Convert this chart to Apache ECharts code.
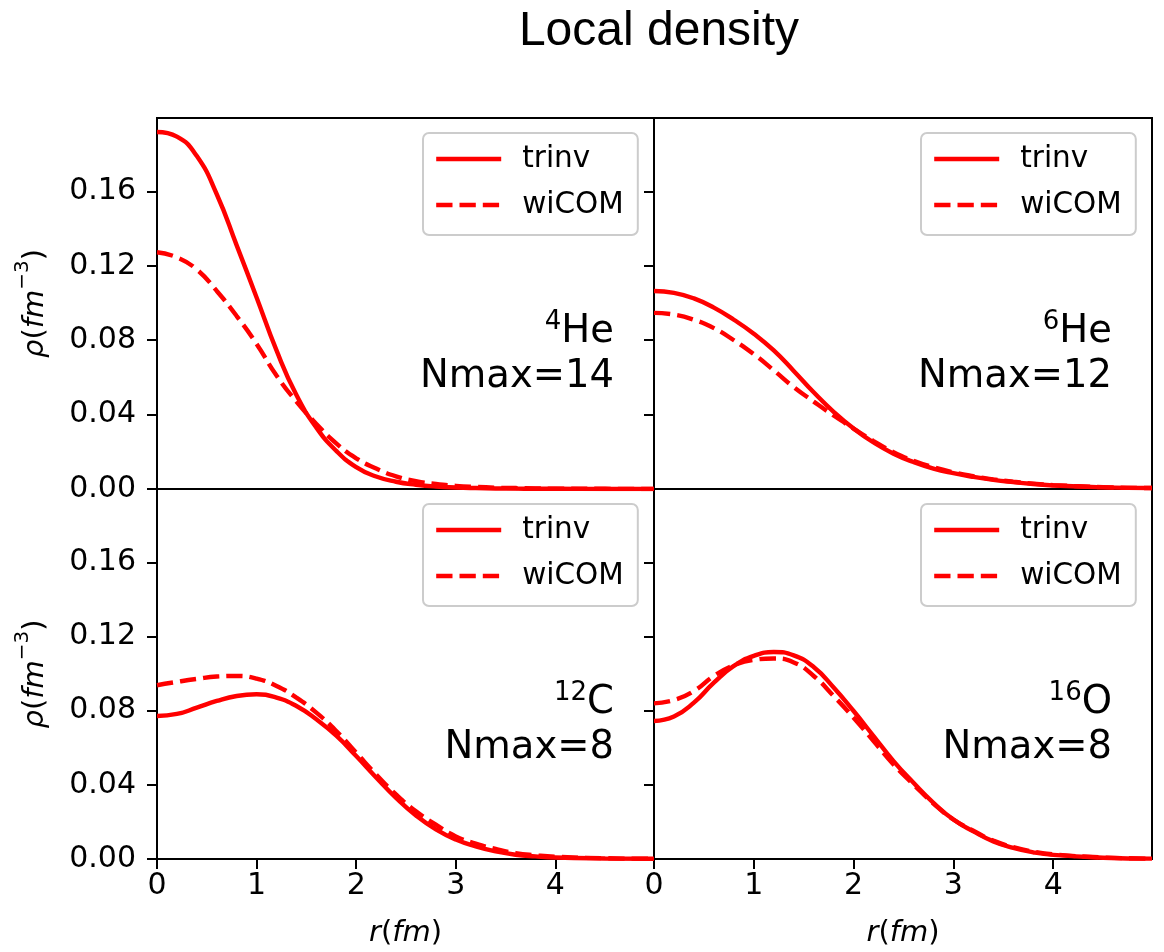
<!DOCTYPE html>
<html>
<head>
<meta charset="utf-8">
<script src="https://cdn.jsdelivr.net/npm/echarts@6/dist/echarts.min.js"></script>
<style>
html,body{margin:0;padding:0;background:#fff;}
#chart{width:1164px;height:952px;}
</style>
</head>
<body>
<div id="chart"></div>
<script>
// ---------------- data ----------------
const rValues = [0, 0.2, 0.4, 0.6, 0.8, 1.0, 1.2, 1.4, 1.6, 1.8, 2.0, 2.2, 2.4, 2.6, 2.8, 3.0, 3.2, 3.4, 3.6, 3.8, 4.0, 4.5, 4.99];

const he4Trinv = [0.192, 0.1895, 0.1790, 0.1585, 0.131, 0.103, 0.0745, 0.0505, 0.0330, 0.0205, 0.0118, 0.0067, 0.0039, 0.0023, 0.0013, 0.0008, 0.0005, 0.0003, 0.0002, 0.0001, 0.0001, 0, 0];
const he4Wicom = [0.1273, 0.1246, 0.118, 0.1065, 0.093, 0.078, 0.061, 0.047, 0.035, 0.0245, 0.0165, 0.011, 0.0068, 0.0042, 0.0027, 0.0017, 0.0011, 0.0007, 0.0005, 0.0003, 0.0002, 0.0001, 0];

const he6Trinv = [0.1065, 0.1055, 0.1025, 0.0975, 0.091, 0.0835, 0.0745, 0.0635, 0.052, 0.0415, 0.0325, 0.025, 0.019, 0.0145, 0.011, 0.0085, 0.0065, 0.0049, 0.0037, 0.0027, 0.0019, 0.0009, 0.0005];
const he6Wicom = [0.0947, 0.0938, 0.091, 0.0865, 0.080, 0.0725, 0.0638, 0.0548, 0.047, 0.0395, 0.0325, 0.0258, 0.0198, 0.0152, 0.0117, 0.009, 0.0069, 0.0052, 0.0039, 0.0029, 0.0021, 0.001, 0.0005];

const c12Trinv = [0.0771, 0.0782, 0.0816, 0.0852, 0.0879, 0.0888, 0.087, 0.0825, 0.0753, 0.0665, 0.0555, 0.044, 0.033, 0.0235, 0.016, 0.0105, 0.0068, 0.0041, 0.0023, 0.0014, 0.0008, 0.0003, 0.0001];
const c12Wicom = [0.0937, 0.0955, 0.0971, 0.0984, 0.0987, 0.0973, 0.0933, 0.087, 0.0789, 0.069, 0.0573, 0.0456, 0.0348, 0.0257, 0.0185, 0.0122, 0.0083, 0.0054, 0.0032, 0.002, 0.0012, 0.0004, 0.0001];

const o16Trinv = [0.0744, 0.0768, 0.0843, 0.0951, 0.1041, 0.1095, 0.1116, 0.1098, 0.1035, 0.0925, 0.0798, 0.0663, 0.0528, 0.0411, 0.0303, 0.0213, 0.0149, 0.0095, 0.006, 0.0036, 0.0022, 0.0007, 0.0002];
const o16Wicom = [0.0839, 0.0857, 0.0906, 0.0987, 0.1045, 0.1074, 0.1081, 0.106, 0.0987, 0.0879, 0.0762, 0.0636, 0.051, 0.0402, 0.0299, 0.0213, 0.0152, 0.0099, 0.0064, 0.004, 0.0025, 0.0008, 0.0002];

const seriesNames = ['trinv', 'wiCOM'];
const massNumbers = ['4', '6', '12', '16'];
const elements = ['He', 'He', 'C', 'O'];
const nmaxLabels = ['Nmax=14', 'Nmax=12', 'Nmax=8', 'Nmax=8'];
const xTicks = [0, 1, 2, 3, 4];
const yTicks = [0, 0.04, 0.08, 0.12, 0.16];
const titleText = 'Local density';

// ---------------- layout / style ----------------
const FONT = 'DejaVu Sans';
const grids = [
  {left: 157, top: 118, width: 497, height: 371},
  {left: 654, top: 118, width: 498, height: 371},
  {left: 157, top: 489, width: 497, height: 370},
  {left: 654, top: 489, width: 498, height: 370}
];
const trinvSets = [he4Trinv, he6Trinv, c12Trinv, o16Trinv];
const wicomSets = [he4Wicom, he6Wicom, c12Wicom, o16Wicom];

function pairs(vals) { return rValues.map((r, i) => [r, vals[i]]); }

const mathRich = {
  it: {fontFamily: FONT, fontStyle: 'italic', fontSize: 29, color: '#000', lineHeight: 44},
  n: {fontFamily: FONT, fontSize: 29, color: '#000', lineHeight: 44},
  sup: {fontFamily: FONT, fontSize: 20, color: '#000', lineHeight: 16, verticalAlign: 'top'}
};

const xAxes = grids.map((g, i) => ({
  type: 'value', gridIndex: i, min: 0, max: 4.99,
  axisLine: {show: false}, splitLine: {show: false},
  axisTick: {show: i >= 2, customValues: xTicks, length: 10, lineStyle: {color: '#000', width: 2}},
  axisLabel: {show: i >= 2, customValues: xTicks, formatter: v => String(v), fontFamily: FONT, fontSize: 30, color: '#000', margin: 12},
  name: i >= 2 ? '{it|r}{n|(}{it|fm}{n|)}' : '',
  nameLocation: 'middle', nameGap: 52,
  nameTextStyle: {rich: mathRich}
}));

const yAxes = grids.map((g, i) => ({
  type: 'value', gridIndex: i, min: 0, max: 0.1995,
  axisLine: {show: false}, splitLine: {show: false},
  axisTick: {show: true, customValues: yTicks, length: 10, lineStyle: {color: '#000', width: 2}},
  axisLabel: {show: i % 2 === 0, customValues: yTicks, formatter: v => v.toFixed(2), fontFamily: FONT, fontSize: 30, color: '#000', margin: 21},
  name: i % 2 === 0 ? '{it|ρ}{n|(}{it|fm}{sup|−3}{n|)}' : '',
  nameLocation: 'middle', nameRotate: 90, nameGap: 100,
  nameTextStyle: {rich: mathRich}
}));

const series = [];
grids.forEach((g, i) => {
  series.push({
    name: seriesNames[0], type: 'line', xAxisIndex: i, yAxisIndex: i,
    data: pairs(trinvSets[i]), symbol: 'none', smooth: 0.5,
    lineStyle: {color: '#ff0000', width: 4.4, type: 'solid'}, itemStyle: {color: '#ff0000'}
  });
  series.push({
    name: seriesNames[1], type: 'line', xAxisIndex: i, yAxisIndex: i,
    data: pairs(wicomSets[i]), symbol: 'none', smooth: 0.5,
    lineStyle: {color: '#ff0000', width: 4.4, type: [16.3, 7], cap: 'butt'}, itemStyle: {color: '#ff0000'}
  });
});

const legends = grids.map(g => ({
  data: seriesNames, orient: 'vertical',
  left: g.left + g.width - 231, top: g.top + 15,
  itemWidth: 65, itemHeight: 29, itemGap: 16,
  padding: [11, 14, 15, 11],
  backgroundColor: 'rgba(255,255,255,0.8)', borderColor: '#cccccc', borderWidth: 2, borderRadius: 6,
  selectedMode: false,
  lineStyle: {width: 4.4},
  itemStyle: {opacity: 0, borderWidth: 0},
  textStyle: {fontFamily: FONT, fontSize: 29.5, color: '#000', padding: [0, 0, 0, 16]}
}));

const labelRich = {
  sup: {fontFamily: FONT, fontSize: 26, color: '#000', lineHeight: 26, verticalAlign: 'top'},
  big: {fontFamily: FONT, fontSize: 38.5, color: '#000', lineHeight: 45}
};
const graphics = grids.map((g, i) => ({
  type: 'text',
  x: g.left + g.width - 40,
  y: g.top + 191,
  style: {
    text: '{sup|' + massNumbers[i] + '}{big|' + elements[i] + '}\n{big|' + nmaxLabels[i] + '}',
    align: 'right', verticalAlign: 'top', rich: labelRich
  }
}));

const chart = echarts.init(document.getElementById('chart'), null, {renderer: 'canvas'});
chart.setOption({
  animation: false,
  backgroundColor: '#ffffff',
  title: {
    text: titleText, left: 654, top: 3, textAlign: 'center',
    textStyle: {fontFamily: 'Liberation Sans', fontSize: 48, fontWeight: 'normal', color: '#000'}
  },
  grid: grids.map(g => Object.assign({show: true, borderColor: '#000', borderWidth: 2, backgroundColor: 'transparent'}, g)),
  xAxis: xAxes,
  yAxis: yAxes,
  legend: legends,
  series: series,
  graphic: graphics
});
</script>
</body>
</html>
